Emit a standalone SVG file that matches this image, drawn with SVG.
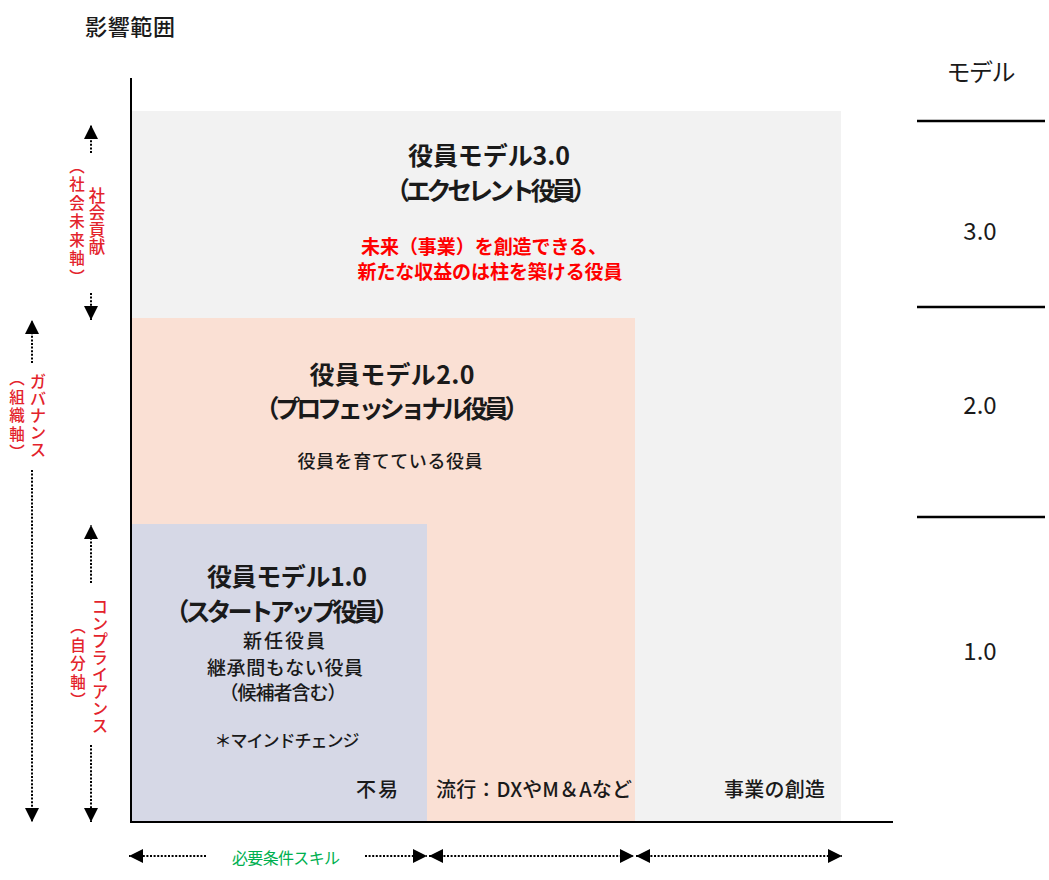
<svg xmlns="http://www.w3.org/2000/svg" width="1049" height="880" viewBox="0 0 1049 880">
<style>
text{font-family:"Noto Sans CJK JP","Noto Sans",sans-serif;fill:#1a1a1a}
.title{font-size:25px;font-weight:700;text-anchor:middle}
.sub{font-size:19px;font-weight:500;text-anchor:middle}
.red{font-size:19px;font-weight:700;fill:#ff0000;text-anchor:middle}
.axislab{font-size:20px;font-weight:500}
.model{font-size:24px;font-weight:400;text-anchor:middle}
.vert{writing-mode:vertical-rl;text-anchor:middle;fill:#e3232c;font-weight:500}
.vm{font-size:16.5px;letter-spacing:0.5px}
.vp{font-size:15.5px;letter-spacing:3px}
.dot{stroke:#000;stroke-width:2;stroke-dasharray:2 1.6;fill:none}
.axis{stroke:#000;stroke-width:2;fill:none}
.sep{stroke:#000;stroke-width:2.5;fill:none}
</style>
<defs>
<marker id="ah" markerUnits="userSpaceOnUse" markerWidth="14" markerHeight="14" refX="12" refY="6" orient="auto-start-reverse" viewBox="0 0 12 12">
<path d="M0,0 L12,6 L0,12 z" fill="#000"/>
</marker>
</defs>
<rect width="1049" height="880" fill="#fff"/>

<g id="model3">
<rect x="131" y="111" width="710" height="711" fill="#f2f2f2"/>
<text class="title" x="489" y="165" textLength="162">役員モデル3.0</text>
<text class="title" x="491" y="200" textLength="212">（エクセレント役員）</text>
<text class="red" x="484" y="254" textLength="246">未来（事業）を創造できる、</text>
<text class="red" x="490" y="279" textLength="265">新たな収益のは柱を築ける役員</text>
<text class="axislab" x="724" y="797" textLength="101">事業の創造</text>
</g>

<g id="model2">
<rect x="131" y="318" width="504" height="504" fill="#fae0d4"/>
<text class="title" x="392" y="384" textLength="165">役員モデル2.0</text>
<text class="title" x="392" y="418" textLength="275">（プロフェッショナル役員）</text>
<text class="sub" x="390" y="468" style="font-size:18px" textLength="185">役員を育てている役員</text>
<text class="axislab" x="436" y="797" textLength="196">流行：DXやM＆Aなど</text>
</g>

<g id="model1">
<rect x="131" y="524" width="296" height="298" fill="#d6d8e6"/>
<text class="title" x="287" y="586" textLength="160">役員モデル1.0</text>
<text class="title" x="282" y="621" textLength="235">（スタートアップ役員）</text>
<text class="sub" x="284" y="648" textLength="82">新任役員</text>
<text class="sub" x="285" y="675" textLength="156">継承間もない役員</text>
<text class="sub" x="283" y="700" textLength="127">（候補者含む）</text>
<text class="sub" x="287" y="747" style="font-size:17px" textLength="145">＊マインドチェンジ</text>
<text class="axislab" x="356" y="797" textLength="42">不易</text>
</g>

<g id="axes">
<line class="axis" x1="131" y1="78" x2="131" y2="823"/>
<line class="axis" x1="130" y1="822" x2="893" y2="822"/>
<text x="85" y="35" style="font-size:22px;font-weight:500" textLength="90">影響範囲</text>
</g>

<g id="model-scale">
<text class="model" x="981" y="81" textLength="69">モデル</text>
<line class="sep" x1="917" y1="121" x2="1045" y2="121"/>
<text class="model" x="980" y="240">3.0</text>
<line class="sep" x1="917" y1="307" x2="1045" y2="307"/>
<text class="model" x="980" y="414">2.0</text>
<line class="sep" x1="917" y1="517" x2="1045" y2="517"/>
<text class="model" x="980" y="660">1.0</text>
</g>

<g id="connectors">
<line class="dot" x1="91" y1="153" x2="91" y2="125" marker-end="url(#ah)"/>
<line class="dot" x1="91" y1="293" x2="91" y2="320" marker-end="url(#ah)"/>
<line class="dot" x1="32" y1="363" x2="32" y2="320" marker-end="url(#ah)"/>
<line class="dot" x1="32" y1="470" x2="32" y2="822" marker-end="url(#ah)"/>
<line class="dot" x1="91" y1="583" x2="91" y2="525" marker-end="url(#ah)"/>
<line class="dot" x1="91" y1="745" x2="91" y2="822" marker-end="url(#ah)"/>
<line class="dot" x1="206" y1="856" x2="129" y2="856" marker-end="url(#ah)"/>
<line class="dot" x1="365" y1="856" x2="427" y2="856" marker-end="url(#ah)"/>
<line class="dot" x1="429" y1="856" x2="634" y2="856" marker-start="url(#ah)" marker-end="url(#ah)"/>
<line class="dot" x1="636" y1="856" x2="842" y2="856" marker-start="url(#ah)" marker-end="url(#ah)"/>
</g>

<g id="axis-labels">
<text class="vert vm" x="97" y="221">社会貢献</text>
<text class="vert vp" x="77" y="223">（社会未来軸）</text>
<text class="vert vm" x="38" y="416">ガバナンス</text>
<text class="vert vp" x="17" y="417">（組織軸）</text>
<text class="vert vm" x="100" y="666">コンプライアンス</text>
<text class="vert vp" x="78" y="665">（自分軸）</text>
<text x="286" y="864" style="font-size:16px;fill:#00b050;text-anchor:middle" textLength="108">必要条件スキル</text>
</g>
</svg>
